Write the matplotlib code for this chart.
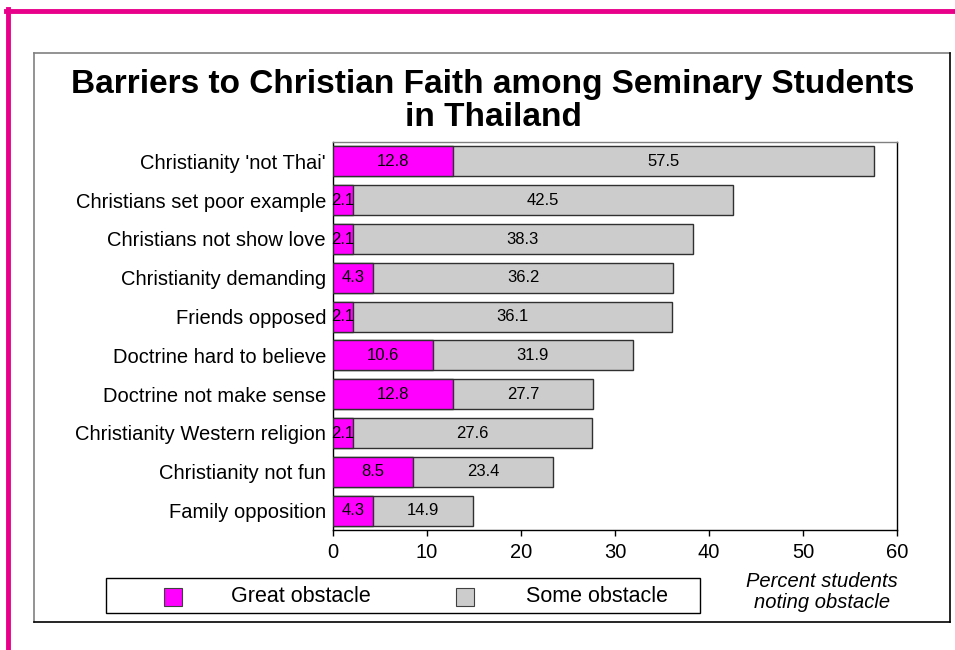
import matplotlib
matplotlib.use("Agg")
import matplotlib.pyplot as plt
from matplotlib.patches import Rectangle
from matplotlib.lines import Line2D

categories = ["Christianity 'not Thai'", "Christians set poor example", "Christians not show love",
              "Christianity demanding", "Friends opposed", "Doctrine hard to believe",
              "Doctrine not make sense", "Christianity Western religion", "Christianity not fun",
              "Family opposition"]
great = [12.8, 2.1, 2.1, 4.3, 2.1, 10.6, 12.8, 2.1, 8.5, 4.3]
some = [57.5, 42.5, 38.3, 36.2, 36.1, 31.9, 27.7, 27.6, 23.4, 14.9]
xticks = [0, 10, 20, 30, 40, 50, 60]

W, H = 955, 650
fig = plt.figure(figsize=(W / 100, H / 100), dpi=100)
plt.rcParams['font.family'] = ['Liberation Sans', 'DejaVu Sans']

def fx(px):
    return px / W

def fy(py):
    return 1 - py / H

# pink outer frame
fig.add_artist(Line2D([fx(6), fx(955)], [fy(11), fy(11)], color='#E8008A', lw=3.5))
fig.add_artist(Line2D([fx(8), fx(8)], [fy(9), fy(650)], color='#E8008A', lw=3.5))

# inner box
fig.add_artist(Line2D([fx(34), fx(950)], [fy(53), fy(53)], color='#808080', lw=1.2))
fig.add_artist(Line2D([fx(34), fx(34)], [fy(53), fy(622)], color='#808080', lw=1.2))
fig.add_artist(Line2D([fx(950), fx(950)], [fy(53), fy(622)], color='black', lw=1.2))
fig.add_artist(Line2D([fx(34), fx(950)], [fy(622), fy(622)], color='black', lw=1.2))

# title
fig.text(fx(493), fy(84), "Barriers to Christian Faith among Seminary Students",
         ha='center', va='center', fontsize=24, fontweight='bold')
fig.text(fx(493), fy(118), "in Thailand", ha='center', va='center', fontsize=24, fontweight='bold')

ax = fig.add_axes([fx(333), fy(530), fx(897) - fx(333), (530 - 142) / H])
y = list(range(len(categories)))
ax.barh(y, some, height=0.77, color='#CCCCCC', edgecolor='#303030', lw=1.0, zorder=2)
ax.barh(y, great, height=0.77, color='#FF00FF', edgecolor='#303030', lw=1.0, zorder=3)
for i in y:
    ax.text(great[i] / 2, i, f"{great[i]:.1f}", ha='center', va='center', fontsize=12, zorder=4)
    ax.text((great[i] + some[i]) / 2, i, f"{some[i]:.1f}", ha='center', va='center', fontsize=12, zorder=4)

ax.set_ylim(len(categories) - 0.5, -0.5)
ax.set_xlim(0, 60)
ax.set_xticks(xticks)
ax.set_xticklabels([str(t) for t in xticks], fontsize=14.5)
ax.set_yticks(y)
ax.set_yticklabels(categories, fontsize=14.5)
ax.tick_params(axis='y', length=0, pad=5)
ax.tick_params(axis='x', length=4, width=1, direction='out', pad=5)
ax.spines['top'].set_color('#808080')
ax.spines['right'].set_color('black')
for s in ax.spines.values():
    s.set_linewidth(1.0)

# legend
fig.add_artist(Rectangle((fx(106), fy(613)), fx(700) - fx(106), (613 - 578) / H,
                         fill=False, edgecolor='black', lw=1.0))
fig.add_artist(Rectangle((fx(164), fy(606)), fx(18), 18 / H, facecolor='#FF00FF', edgecolor='#404040', lw=0.8))
fig.text(fx(231), fy(596), "Great obstacle", ha='left', va='center', fontsize=15.5)
fig.add_artist(Rectangle((fx(456), fy(606)), fx(18), 18 / H, facecolor='#CCCCCC', edgecolor='#404040', lw=0.8))
fig.text(fx(526), fy(596), "Some obstacle", ha='left', va='center', fontsize=15.5)

fig.text(fx(822), fy(592), "Percent students\nnoting obstacle", ha='center', va='center',
         fontsize=14.5, style='italic', linespacing=1.1)

fig.savefig("out.png", dpi=100)
